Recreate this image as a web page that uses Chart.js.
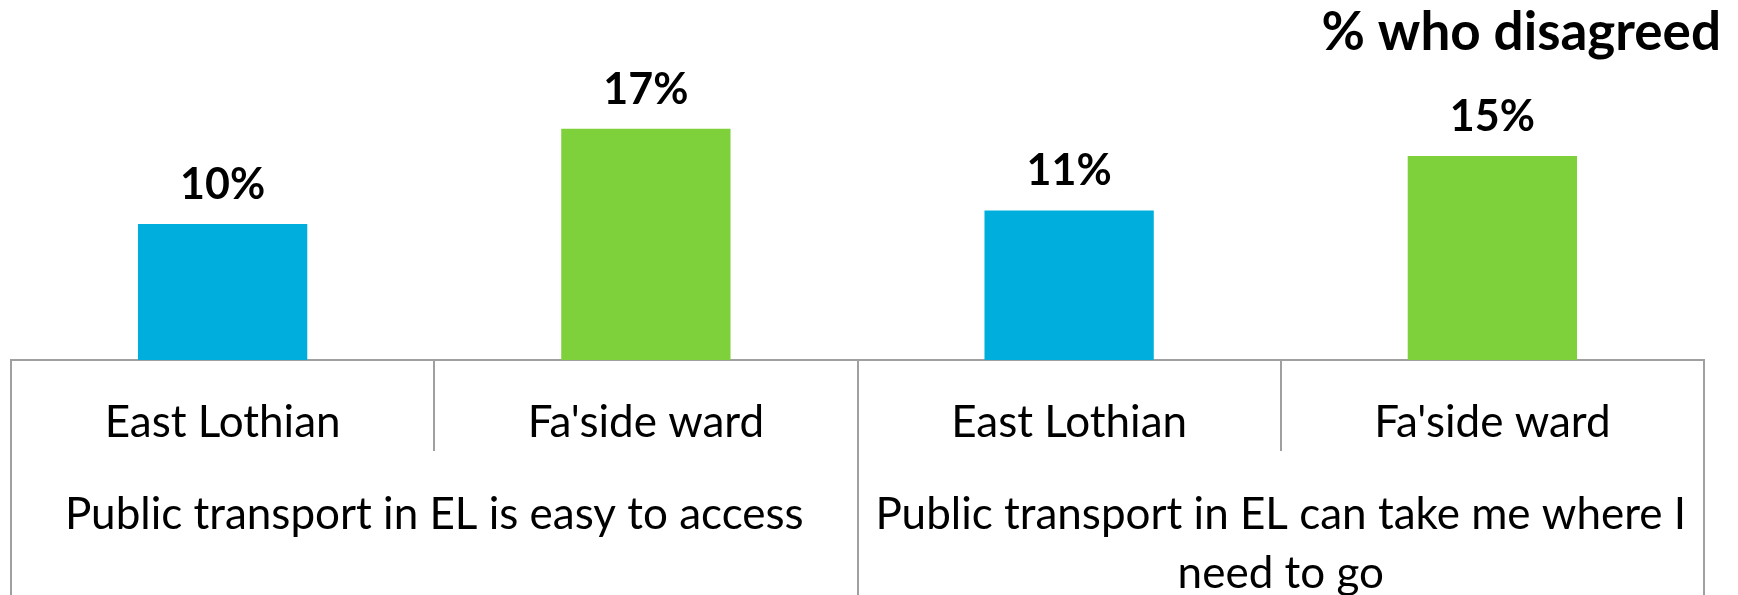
<!DOCTYPE html>
<html lang="en">
<head>
    <meta charset="UTF-8">
    <title>% who disagreed</title>
    <script src="https://cdn.jsdelivr.net/npm/chart.js"></script>
    <style>
        html, body { margin: 0; padding: 0; background: #fff; }
        #wrap { width: 1738px; height: 595px; position: relative; }
    </style>
</head>
<body>
    <div id="wrap"><canvas id="chart"></canvas></div>

    <script>
        // Chart data
        const areas = ['East Lothian', "Fa'side ward", 'East Lothian', "Fa'side ward"];
        const statements = [
            ['Public transport in EL is easy to access'],
            ['Public transport in EL can take me where I', 'need to go']
        ];
        const disagreed = [10, 17, 11, 15];
        const barColours = ['#00AEDD', '#7FD13B', '#00AEDD', '#7FD13B'];

        const fontFamily = 'Lato, "Liberation Sans", sans-serif';
        const lineGrey = '#a0a0a0';

        // Draws the % value above each bar
        const valueLabels = {
            id: 'valueLabels',
            afterDatasetsDraw(chart) {
                const ctx = chart.ctx;
                const meta = chart.getDatasetMeta(0);
                ctx.save();
                ctx.font = 'bold 43px ' + fontFamily;
                ctx.fillStyle = '#000';
                ctx.textAlign = 'center';
                ctx.textBaseline = 'middle';
                meta.data.forEach((bar, i) => {
                    ctx.fillText(disagreed[i] + '%', bar.x, bar.y - 39);
                });
                ctx.restore();
            }
        };

        // the labels sit inside the tick marks (negative padding),
        // axis heights are fixed in afterFit so the labels are not clipped
        new Chart(document.getElementById('chart'), {
            type: 'bar',
            data: {
                labels: areas,
                datasets: [{
                    data: disagreed,
                    backgroundColor: barColours,
                    borderWidth: 0,
                    categoryPercentage: 1,
                    barPercentage: 0.4
                }]
            },
            options: {
                responsive: true,
                maintainAspectRatio: false,
                animation: false,
                layout: { padding: { left: 11, right: 17, top: 0, bottom: 0 } },
                plugins: {
                    legend: { display: false },
                    tooltip: { enabled: false },
                    title: {
                        display: true,
                        text: '% who disagreed',
                        align: 'end',
                        color: '#000',
                        font: { family: fontFamily, size: 53, weight: 'bold', lineHeight: 1.2 },
                        padding: { top: 1.2, bottom: 23.2 }
                    }
                },
                scales: {
                    y: {
                        position: 'right',
                        min: 0,
                        max: 20,
                        grid: { display: false },
                        border: { display: false },
                        ticks: { display: false },
                        afterFit(scale) { scale.width = 17; }
                    },
                    x: {
                        type: 'category',
                        offset: true,
                        grid: {
                            offset: true,
                            drawOnChartArea: false,
                            drawTicks: true,
                            tickLength: 91,
                            color: lineGrey,
                            lineWidth: 2
                        },
                        border: { display: true, color: lineGrey, width: 2 },
                        ticks: {
                            color: '#000',
                            padding: -58.8,
                            maxRotation: 0,
                            autoSkip: false,
                            font: { family: fontFamily, size: 44, lineHeight: 1.4 }
                        },
                        afterFit(scale) { scale.height = 91; }
                    },
                    x2: {
                        type: 'category',
                        position: 'bottom',
                        labels: statements,
                        offset: true,
                        grid: {
                            offset: true,
                            drawOnChartArea: false,
                            drawTicks: true,
                            tickLength: 150,
                            color: lineGrey,
                            lineWidth: 2
                        },
                        border: { display: false },
                        ticks: {
                            color: '#000',
                            padding: -115.5,
                            maxRotation: 0,
                            autoSkip: false,
                            font: { family: fontFamily, size: 44, lineHeight: 1.341 }
                        },
                        afterFit(scale) { scale.height = 144; }
                    }
                }
            },
            plugins: [valueLabels]
        });
    </script>
</body>
</html>
